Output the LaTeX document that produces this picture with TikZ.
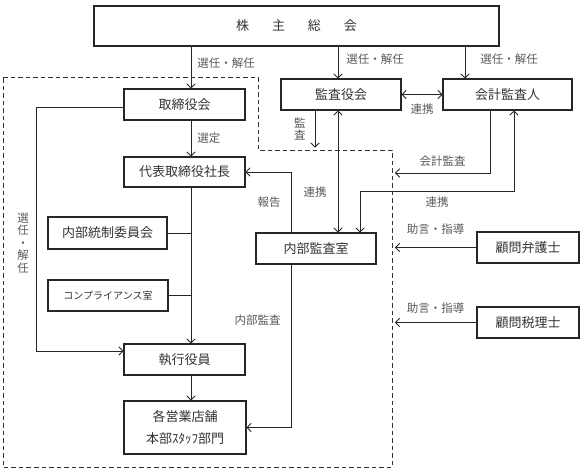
\documentclass[tikz,border=0pt]{standalone}
\usepackage{fontspec}
\setmainfont{Noto Sans CJK JP}
\usepackage{tikz}
\usetikzlibrary{arrows.meta}

\begin{document}
\begin{tikzpicture}[x=1pt,y=-1pt,
    box/.style={draw=black!85,line width=1.1pt,fill=white,inner sep=0pt,
      minimum height=31pt,text=black!80,font=\fontsize{13}{15}\selectfont},
    lbl/.style={inner sep=0pt,text=black!65,font=\fontsize{11.5}{12.5}\selectfont},
    conn/.style={line width=0.9pt,draw=black!85,>={Straight Barb[length=4pt,width=8.5pt]}},
    grp/.style={line width=1pt,draw=black!80,dash pattern=on 4.5pt off 3pt}]
          \useasboundingbox (0,0) rectangle (583,474);
          % dashed group
          \draw[grp] (3,77) -- (258,77) -- (258,150) -- (392,150) -- (392,467) -- (3,467) -- cycle;
          % boxes
          \node[box,minimum width=405pt,minimum height=40pt] (soukai) at (296.5,26) {株\hspace{23pt}主\hspace{23pt}総\hspace{23pt}会};
          \node[box,minimum width=121pt] (torishimari) at (184.5,104.5) {取締役会};
          \node[box,minimum width=121pt,minimum height=30pt] (shachou) at (184.5,172) {代表取締役社長};
          \node[box,minimum width=119pt,minimum height=32pt] (tousei) at (107.5,233) {内部統制委員会};
          \node[box,minimum width=120pt,font=\fontsize{10}{12}\selectfont] (compliance) at (108,295.5) {コンプライアンス室};
          \node[box,minimum width=121pt] (shikkou) at (184.5,359.5) {執行役員};
          \node[box,minimum width=122pt,minimum height=53pt,align=center,font=\fontsize{13}{22}\selectfont] (eigyou) at (185,427.5) {各営業店舗\\本部ｽﾀｯﾌ部門};
          \node[box,minimum width=120pt] (kansayaku) at (341,94.5) {監査役会};
          \node[box,minimum width=129pt] (kaikei) at (507.5,94.5) {会計監査人};
          \node[box,minimum width=120pt] (naibu) at (316,248.5) {内部監査室};
          \node[box,minimum width=102pt] (bengoshi) at (528,247.5) {顧問弁護士};
          \node[box,minimum width=102pt] (zeirishi) at (528,322.5) {顧問税理士};
          % connector points
          \coordinate (t1) at ([xshift=6.5pt]torishimari.north);
          \coordinate (t2) at ([xshift=6.5pt]shachou.north);
          \coordinate (t3) at ([xshift=6.5pt]shachou.south);
          \coordinate (k0) at ([xshift=-3pt]kansayaku.north);
          \coordinate (k1) at ([xshift=-26pt]kansayaku.south);
          \coordinate (k2) at ([xshift=-3pt]kansayaku.south);
          \coordinate (a0) at ([xshift=-42.5pt]kaikei.north);
          \coordinate (a1) at ([xshift=6.5pt]kaikei.south);
          \coordinate (a2) at ([xshift=44pt]naibu.north);
          \coordinate (a4) at ([xshift=-17.5pt]kaikei.south);
          \coordinate (g1) at (395,173);
          \coordinate (n1) at ([xshift=-25pt]naibu.north);
          \coordinate (n2) at ([xshift=-25pt]naibu.south);
          \coordinate (b1) at (395,247.5);
          \coordinate (z1) at (395,322.5);
          % shareholders to boards
          \draw[conn,->] (t1 |- soukai.south) -- (t1) node[lbl,right,pos=0.4,xshift=6pt] {選任・解任};
          \draw[conn,->] (k0 |- soukai.south) -- (k0) node[lbl,right,pos=0.4,xshift=8pt] {選任・解任};
          \draw[conn,->] (a0 |- soukai.south) -- (a0) node[lbl,right,pos=0.4,xshift=15pt] {選任・解任};
          % main line on the left
          \draw[conn,->] (t1 |- torishimari.south) -- (t2) node[lbl,right,midway,xshift=6pt] {選定};
          \draw[conn,->] (t3) -- (t3 |- shikkou.north);
          \draw[conn] (tousei.east) -- (tousei.east -| t3);
          \draw[conn] (compliance.east) -- (compliance.east -| t3);
          \draw[conn,->] (t3 |- shikkou.south) -- (t3 |- eigyou.north);
          \draw[conn,->] ([yshift=-2.5pt]torishimari.west) -- ++(-87,0) |- ([yshift=8.5pt]shikkou.west);
          \node[lbl,align=center] (sennin) at (23,243) {選\\任\\・\\解\\任};
          % audit board
          \draw[conn,->] (k1) -- ++(0,37) node[lbl,midway,left,xshift=-9pt,align=center] {監\\査};
          \draw[conn,<->] (k2) -- (k2 |- naibu.north) node[lbl,left,pos=0.67,xshift=-11pt] {連携};
          \draw[conn,<->] (kansayaku.east) -- (kaikei.west) node[lbl,midway,below=9pt] {連携};
          % accounting auditor
          \draw[conn,->] (a4) |- (g1) node[lbl,above,pos=0.75,yshift=6pt] {会計監査};
          \draw[conn,<->] (a2) -- ++(0,-41) -| (a1) node[lbl,below,pos=0.25,yshift=-5pt] {連携};
          % internal audit
          \draw[conn,->] (n1) |- (shachou.east) node[lbl,left,pos=0.25,xshift=-10pt] {報告};
          \draw[conn,->] (n2) |- (eigyou.east) node[lbl,left,pos=0.17,xshift=-10pt] {内部監査};
          % advisers
          \draw[conn,->] (bengoshi.west) -- (b1) node[lbl,midway,above=13pt] {助言・指導};
          \draw[conn,->] (zeirishi.west) -- (z1) node[lbl,midway,above=9pt] {助言・指導};
        \end{tikzpicture}
\end{document}
